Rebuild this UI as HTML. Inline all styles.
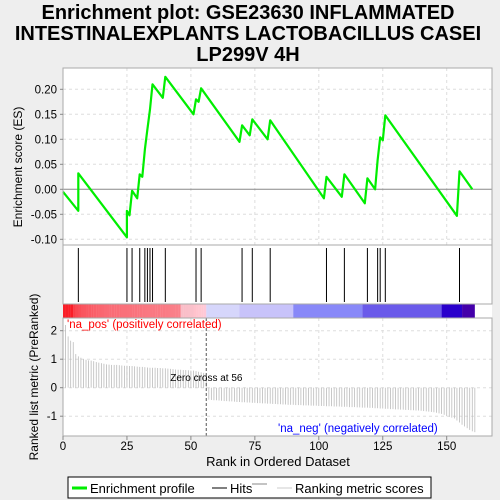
<!DOCTYPE html>
<html><head><meta charset="utf-8"><style>
body{margin:0;background:#eeeeee;font-family:"Liberation Sans","DejaVu Sans",sans-serif}
svg{display:block}
</style></head><body>
<svg id="c" width="500" height="500" xmlns="http://www.w3.org/2000/svg">
<rect x="0" y="0" width="500" height="500" fill="#eeeeee"/>
<g font-size="20" font-weight="bold" text-anchor="middle" fill="#000">
<text x="248" y="19">Enrichment plot: GSE23630 INFLAMMATED</text>
<text x="248" y="40">INTESTINALEXPLANTS LACTOBACILLUS CASEI</text>
<text x="248" y="61">LP299V 4H</text>
</g>
<rect x="63" y="68" width="429" height="368" fill="#fff"/>
<g id="grid"></g>
<g id="es"></g>
<g id="hits"></g>
<g id="cbar"></g>
<g id="metric"></g>
<g id="frames"></g>
<g id="axes" font-size="11.5" fill="#000"></g>
<text x="22" y="167" font-size="12" text-anchor="middle" transform="rotate(-90 22 167)">Enrichment score (ES)</text>
<text x="38" y="377" font-size="12" text-anchor="middle" transform="rotate(-90 38 377)">Ranked list metric (PreRanked)</text>
<text x="278" y="466" font-size="13" text-anchor="middle">Rank in Ordered Dataset</text>
<text x="67" y="328" font-size="11.5" fill="#ff0000">'na_pos' (positively correlated)</text>
<text x="278" y="432" font-size="11.5" fill="#0000ff">'na_neg' (negatively correlated)</text>
<g>
<rect x="68" y="477" width="363" height="21" fill="#fff" stroke="#000"/>
<line x1="72" y1="488" x2="87" y2="488" stroke="#00ee00" stroke-width="3"/>
<text x="90" y="493" font-size="13">Enrichment profile</text>
<line x1="212" y1="488" x2="227" y2="488" stroke="#000"/>
<text x="230" y="493" font-size="13">Hits</text>
<line x1="252" y1="484" x2="267" y2="484" stroke="#888"/>
<line x1="277" y1="488" x2="292" y2="488" stroke="#ccc"/>
<text x="295" y="493" font-size="13">Ranking metric scores</text>
</g>
</svg>
<script>
const hitRanks=[6,25,27,30,32,33,34,35,40,52,54,70,74,81,103,110,119,123,124,126,155];
const esRanks=[0,6,6,25,25,26,27,29,30,31,32,33,34,35,39,40,51,52,53,54,69,70,73,74,80,81,102,103,109,110,118,119,122,123,124,125,126,154,155,160];
const esValues=[-0.005,-0.043,0.032,-0.096,-0.043,-0.052,-0.003,-0.018,0.030,0.025,0.08,0.12,0.16,0.21,0.183,0.225,0.15,0.18,0.175,0.202,0.095,0.128,0.108,0.14,0.10,0.138,-0.018,0.025,-0.015,0.03,-0.028,0.022,0.0,0.058,0.104,0.098,0.148,-0.053,0.036,0.0];
const metricValues=[2.2,1.8,1.65,1.6,1.18,1.1,1.05,1.0,0.98,0.96,0.95,0.93,0.9,0.88,0.86,0.84,0.82,0.81,0.8,0.8,0.8,0.79,0.78,0.77,0.77,0.76,0.76,0.75,0.74,0.73,0.73,0.72,0.71,0.7,0.7,0.7,0.69,0.69,0.68,0.68,0.67,0.66,0.65,0.64,0.63,0.63,0.62,0.62,0.61,0.6,0.6,0.58,0.56,0.54,0.52,0.48,
-0.42,-0.43,-0.44,-0.44,-0.45,-0.46,-0.47,-0.47,-0.48,-0.48,
-0.49,-0.5,-0.5,-0.51,-0.51,-0.52,-0.52,-0.53,-0.53,-0.54,
-0.54,-0.55,-0.55,-0.56,-0.56,-0.57,-0.57,-0.58,-0.58,-0.59,
-0.59,-0.6,-0.6,-0.6,-0.61,-0.61,-0.61,-0.62,-0.62,-0.62,
-0.63,-0.63,-0.63,-0.64,-0.64,-0.64,-0.65,-0.65,-0.65,-0.66,
-0.66,-0.66,-0.67,-0.67,-0.67,-0.68,-0.68,-0.68,-0.69,-0.69,
-0.7,-0.7,-0.7,-0.71,-0.71,-0.72,-0.72,-0.73,-0.73,-0.74,
-0.74,-0.75,-0.75,-0.76,-0.76,-0.77,-0.77,-0.78,-0.78,-0.79,
-0.79,-0.8,-0.8,-0.81,-0.82,-0.83,-0.84,-0.85,-0.86,-0.88,
-0.9,-0.92,-0.95,-1.0,-1.02,-1.05,-1.08,-1.15,-1.22,-1.3,
-1.36,-1.42,-1.48,-1.53,-1.56];
const xTicks=[0,25,50,75,100,125,150];
const esTicks=[-0.10,-0.05,0.00,0.05,0.10,0.15,0.20];
const metricTicks=[-1,0,1,2];
const zeroCross=56;
const NS="http://www.w3.org/2000/svg";
const X=r=>63+r*2.558;
const YE=v=>189.3-v*500;
const YM=v=>387.7-v*28.5;
function mk(tag,attrs,parent,txt){const e=document.createElementNS(NS,tag);for(const k in attrs)e.setAttribute(k,attrs[k]);if(txt!==undefined)e.textContent=txt;parent.appendChild(e);return e;}
const grid=document.getElementById('grid');
xTicks.forEach(t=>{if(t===0)return;
 const a=mk('line',{x1:X(t),x2:X(t),y1:68,y2:245,stroke:'#ddd','stroke-dasharray':'3,3'},grid);
 
 
 const b=mk('line',{x1:X(t),x2:X(t),y1:318,y2:380,stroke:'#ddd','stroke-dasharray':'3,3'},grid);
 
 });
esTicks.forEach(t=>{const l=mk('line',{x1:63,x2:492,y1:YE(t),y2:YE(t),stroke:Math.abs(t)<1e-9?'#888':'#ddd','stroke-dasharray':Math.abs(t)<1e-9?'':'3,3'},grid);
 
 });
metricTicks.forEach(t=>{const l=mk('line',{x1:63,x2:492,y1:YM(t),y2:YM(t),stroke:'#ddd','stroke-dasharray':'3,3'},grid);
 
 });
const es=document.getElementById('es');
let d='';esRanks.forEach((r,i)=>{d+=(i?'L':'M')+X(r).toFixed(1)+','+YE(esValues[i]).toFixed(1);});
const pl=mk('path',{d:d,fill:'none',stroke:'#00ee00','stroke-width':2.2,'stroke-linejoin':'round'},es);


const hits=document.getElementById('hits');
hitRanks.forEach(r=>{const l=mk('line',{x1:X(r),x2:X(r),y1:248,y2:302,stroke:'#000','stroke-width':1},hits);
 
 });
const cb=document.getElementById('cbar');
const segs=[[0,56,null],[56,69,'#d6d6fb'],[69,90,'#c8c3fa'],[90,117,'#8888f8'],[117,148,'#6a5aea'],[148,156,'#2a00cc'],[156,161,'#4400aa']];
segs.forEach(s=>{
 if(s[2]===null){for(let i=s[0];i<s[1];i++){const v=metricValues[i];const f=Math.min(1,(v-0.45)/1.0);
   const g=Math.round(150-f*120+(i>45?60:0)),bl=Math.round(160-f*120+(i>45?60:0));
   const r=mk('rect',{x:X(i),y:304,width:2.7,height:14,fill:`rgb(${i>50?255:250},${Math.min(200,g)},${Math.min(230,bl)})`},cb);
   
   }}
 else{const r=mk('rect',{x:X(s[0]),y:304,width:X(s[1])-X(s[0]),height:14,fill:s[2]},cb);
  
  }
});
const mg=document.getElementById('metric');
metricValues.forEach((v,i)=>{const l=mk('line',{x1:X(i+1),x2:X(i+1),y1:YM(0),y2:YM(v),stroke:'#bbb','stroke-width':0.8},mg);
 
 });
const zl=mk('line',{x1:X(zeroCross),x2:X(zeroCross),y1:318,y2:436,stroke:'#555','stroke-dasharray':'3,2'},mg);


const zt=mk('text',{x:X(zeroCross)-36,y:381,'font-size':10},mg,'Zero cross at '+zeroCross);


const fr=document.getElementById('frames');
[[68,245],[245,304],[318,436]].forEach(p=>{const r=mk('rect',{x:63,y:p[0],width:429,height:p[1]-p[0],fill:'none',stroke:'#aaa'},fr);
 
 });
const ax=document.getElementById('axes');
esTicks.forEach(t=>{const tx=mk('text',{x:57,y:YE(t)+4,'text-anchor':'end'},ax,t.toFixed(2));
 
 
 mk('line',{x1:60,x2:63,y1:YE(t),y2:YE(t),stroke:'#888'},ax);});
metricTicks.forEach(t=>{const tx=mk('text',{x:57,y:YM(t)+4,'text-anchor':'end'},ax,String(t));
 
 
 mk('line',{x1:60,x2:63,y1:YM(t),y2:YM(t),stroke:'#888'},ax);});
xTicks.forEach(t=>{const tx=mk('text',{x:X(t),y:450,'text-anchor':'middle'},ax,String(t));
 
 
 mk('line',{x1:X(t),x2:X(t),y1:436,y2:440,stroke:'#888'},ax);});
</script>
</body></html>
